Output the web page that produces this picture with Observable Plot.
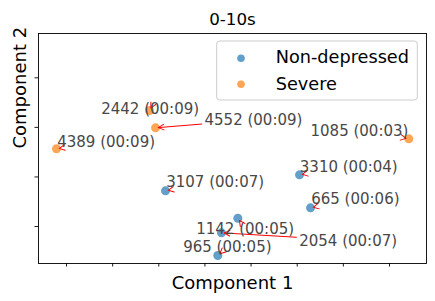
<!DOCTYPE html>
<html><head><meta charset="utf-8">
<script src="https://cdn.jsdelivr.net/npm/d3@7"></script>
<script src="https://cdn.jsdelivr.net/npm/@observablehq/plot@0.6"></script>
<style>body{margin:0;background:#fff;font-family:'DejaVu Sans',sans-serif}</style>
</head><body><div id="chart"></div>
<script>
// ---- data ----
const title = "0-10s";
const xLabel = "Component 1";
const yLabel = "Component 2";
const seriesNames = ["Non-depressed", "Severe"];
const seriesColors = ["#1f77b4", "#ff7f0e"];
const ids    = ["4389", "2442", "4552", "1085", "3107", "1142", "2054", "965", "3310", "665"];
const times  = ["00:09", "00:09", "00:09", "00:03", "00:07", "00:05", "00:07", "00:05", "00:04", "00:06"];
const groups = ["Severe", "Severe", "Severe", "Severe", "Non-depressed", "Non-depressed", "Non-depressed", "Non-depressed", "Non-depressed", "Non-depressed"];
const comp1  = [-3.217, -1.201, -1.071, 4.419, -0.854, 0.713, 0.359, 0.279, 2.050, 2.288];
const comp2  = [0.568, 1.340, 0.991, 0.769, -0.280, -0.832, -1.127, -1.585, 0.043, -0.623];
// label anchor (left, baseline) in data units
const labelX = [-3.202, -2.248, -0.009, 2.288, -0.839, -0.189, 2.043, -0.471, 2.056, 2.303];
const labelY = [0.614, 1.260, 1.048, 0.836, -0.207, -1.147, -1.383, -1.518, 0.110, -0.542];
const xTicks = [-3, -2, -1, 0, 1, 2, 3, 4];
const yTicks = [-1, 0, 1, 2];
const xDomain = [-3.607, 4.802];
const yDomain = [-1.746, 2.894];

// ---- layout ----
const W = 435, H = 301, mL = 38, mR = 9, mT = 33, mB = 38;
const FONT = "'DejaVu Sans', sans-serif";
const labelSize = 15;

const rows = ids.map((id, i) => ({
  id, time: times[i], group: groups[i], x: comp1[i], y: comp2[i],
  lx: labelX[i], ly: labelY[i], text: `${id} (${times[i]})`
}));

// arrows: from label bbox centre toward point, clipped at the bbox
const kx = (W - mL - mR) / (xDomain[1] - xDomain[0]);
const ky = (H - mT - mB) / (yDomain[1] - yDomain[0]);
const cv = document.createElement("canvas").getContext("2d");
cv.font = `${labelSize}px 'DejaVu Sans'`;
const shafts = [], heads = [];
rows.forEach(r => {
  const w = cv.measureText(r.text).width;
  const asc = 0.93 * labelSize, desc = 0.24 * labelSize;
  const cx = w / 2, cy = (-asc + desc) / 2;
  const px = (r.x - r.lx) * kx, py = -(r.y - r.ly) * ky;
  const dx = px - cx, dy = py - cy;
  const len = Math.hypot(dx, dy);
  heads.push({x: r.x, y: r.y, rotate: Math.atan2(-dx, dy) * 180 / Math.PI});
  const tx = dx > 0 ? (w - cx) / dx : dx < 0 ? (0 - cx) / dx : Infinity;
  const ty = dy > 0 ? (desc - cy) / dy : dy < 0 ? (-asc - cy) / dy : Infinity;
  const t = Math.min(tx, ty);
  if (t * len + 2.8 >= len - 2.8) return;
  const sx = cx + dx * t + dx / len * 2.8, sy = cy + dy * t + dy / len * 2.8;
  shafts.push({x1: r.lx + sx / kx, y1: r.ly - sy / ky, x2: r.x, y2: r.y});
});

// open "->" arrowhead whose tip sits 2.8px before the point
const headShape = {
  draw(context, l) {
    const inset = 2.8;
    context.moveTo(-l * 0.5, -inset - l);
    context.lineTo(0, -inset);
    context.lineTo(l * 0.5, -inset - l);
  }
};

function legend(index, scales, values, dim) {
  const g = d3.create("svg:g").attr("font-family", FONT).attr("text-anchor", "start");
  const bw = 200.6, bh = 59;
  const x0 = dim.width - dim.marginRight - 8.7 - bw, y0 = dim.marginTop + 8;
  g.append("rect").attr("x", x0).attr("y", y0).attr("width", bw).attr("height", bh)
    .attr("rx", 3).attr("fill", "white").attr("fill-opacity", 0.8)
    .attr("stroke", "#cccccc").attr("stroke-width", 1);
  seriesNames.forEach((name, i) => {
    const cy = y0 + 17.3 + i * 26;
    g.append("circle").attr("cx", x0 + 24.3).attr("cy", cy).attr("r", 3.8)
      .attr("fill", scales.color(name)).attr("fill-opacity", 0.7);
    g.append("text").attr("x", x0 + 59).attr("y", cy + 5 + (i ? 0.4 : 0))
      .attr("text-anchor", "start").attr("font-size", 17.7).attr("fill", "black").text(name);
  });
  return g.node();
}

const plot = Plot.plot({
  width: W, height: H,
  marginLeft: mL, marginRight: mR, marginTop: mT, marginBottom: mB,
  style: {fontFamily: FONT, background: "white", overflow: "visible"},
  x: {domain: xDomain},
  y: {domain: yDomain},
  color: {domain: seriesNames, range: seriesColors},
  marks: [
    Plot.axisX(xTicks, {tickSize: 3.5, tickFormat: () => "", label: null, stroke: "black", strokeWidth: 0.9}),
    Plot.axisY(yTicks, {tickSize: 3.5, tickFormat: () => "", label: null, stroke: "black", strokeWidth: 0.9}),
    Plot.dot(rows, {x: "x", y: "y", fill: "group", fillOpacity: 0.7, r: 4.5}),
    Plot.arrow(shafts, {x1: "x1", y1: "y1", x2: "x2", y2: "y2", stroke: "red", strokeWidth: 1,
      headLength: 0, insetEnd: 2.8}),
    Plot.vector(heads, {x: "x", y: "y", rotate: "rotate", length: 5.5, anchor: "start",
      shape: headShape, stroke: "red", strokeWidth: 1}),
    Plot.text(rows, {x: "lx", y: "ly", text: "text", textAnchor: "start", lineAnchor: "bottom",
      fontSize: labelSize, fill: "#484848"}),
    Plot.frame({stroke: "black", strokeWidth: 0.9}),
    Plot.text([title], {frameAnchor: "top", lineAnchor: "bottom", dy: -9, fontSize: 16.7, fill: "black"}),
    Plot.text([xLabel], {frameAnchor: "bottom", lineAnchor: "bottom", dy: 25, fontSize: 18, fill: "black"}),
    Plot.text([yLabel], {frameAnchor: "left", lineAnchor: "bottom", rotate: -90, dx: -13, fontSize: 18, fill: "black"}),
    legend
  ]
});
document.getElementById("chart").appendChild(plot);
</script>
</body></html>
